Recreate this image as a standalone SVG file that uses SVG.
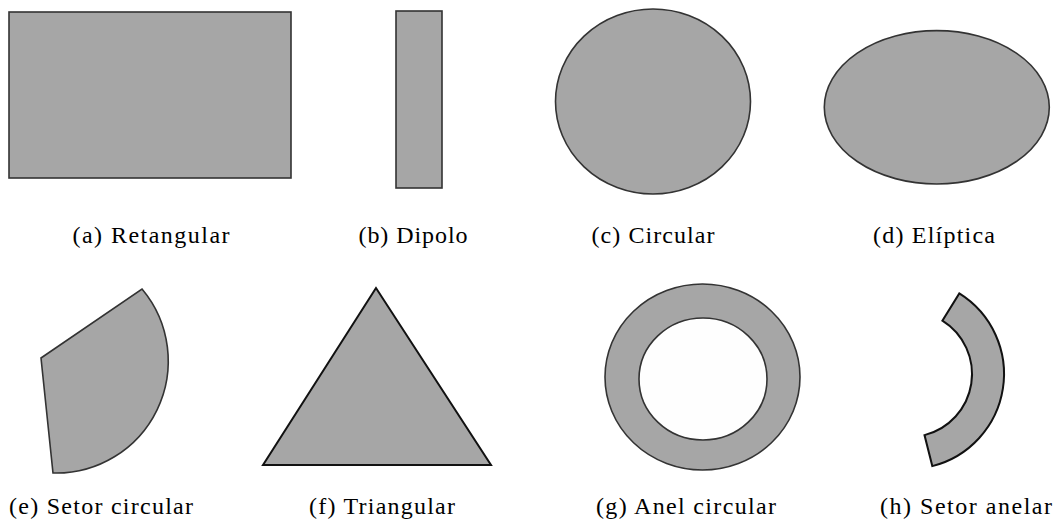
<svg xmlns="http://www.w3.org/2000/svg" width="1063" height="523" viewBox="0 0 1063 523">
<style>
.sh{fill:#a6a6a6;stroke:#333;stroke-width:1.6}
.shk{fill:#a6a6a6;stroke:#111;stroke-width:2}
.hole{fill:#fefefe;stroke:#333;stroke-width:1.6}
.lbl{font-family:"Liberation Serif","Times New Roman",serif;font-size:24px;fill:#000;text-anchor:middle}
</style>
<rect width="1063" height="523" fill="#fff"/>
<g id="a">
<rect class="sh" x="9" y="12" width="282" height="166"/>
<text class="lbl" x="151" y="243" textLength="157" lengthAdjust="spacing">(a) Retangular</text>
</g>
<g id="b">
<rect class="sh" x="396" y="11" width="46" height="177"/>
<text class="lbl" x="413" y="243" textLength="109" lengthAdjust="spacing">(b) Dipolo</text>
</g>
<g id="c">
<ellipse class="sh" cx="653" cy="101.5" rx="97.5" ry="92.5"/>
<text class="lbl" x="653" y="243" textLength="123" lengthAdjust="spacing">(c) Circular</text>
</g>
<g id="d">
<ellipse class="sh" cx="936.8" cy="107.3" rx="112.5" ry="76.7"/>
<text class="lbl" x="934" y="243" textLength="122" lengthAdjust="spacing">(d) Elíptica</text>
</g>
<g id="e">
<path class="sh" d="M41,358 L142,289 A112,112 0 0 1 53,473 Z"/>
<text class="lbl" x="101" y="514" textLength="184" lengthAdjust="spacing">(e) Setor circular</text>
</g>
<g id="f">
<polygon class="shk" points="376,288 263,465 491,465"/>
<text class="lbl" x="382" y="514" textLength="146" lengthAdjust="spacing">(f) Triangular</text>
</g>
<g id="g">
<ellipse class="sh" cx="702.5" cy="377" rx="97.5" ry="93"/>
<ellipse class="hole" cx="703" cy="379" rx="64" ry="61"/>
<text class="lbl" x="686" y="514" textLength="180" lengthAdjust="spacing">(g) Anel circular</text>
</g>
<g id="h">
<path class="shk" d="M959.3,293.4 A95,95 0 0 1 932.3,466.1 L924.5,435.1 A63,63 0 0 0 942.4,320.6 Z"/>
<text class="lbl" x="966" y="514" textLength="172" lengthAdjust="spacing">(h) Setor anelar</text>
</g>
<g id="connectors"></g>
</svg>
